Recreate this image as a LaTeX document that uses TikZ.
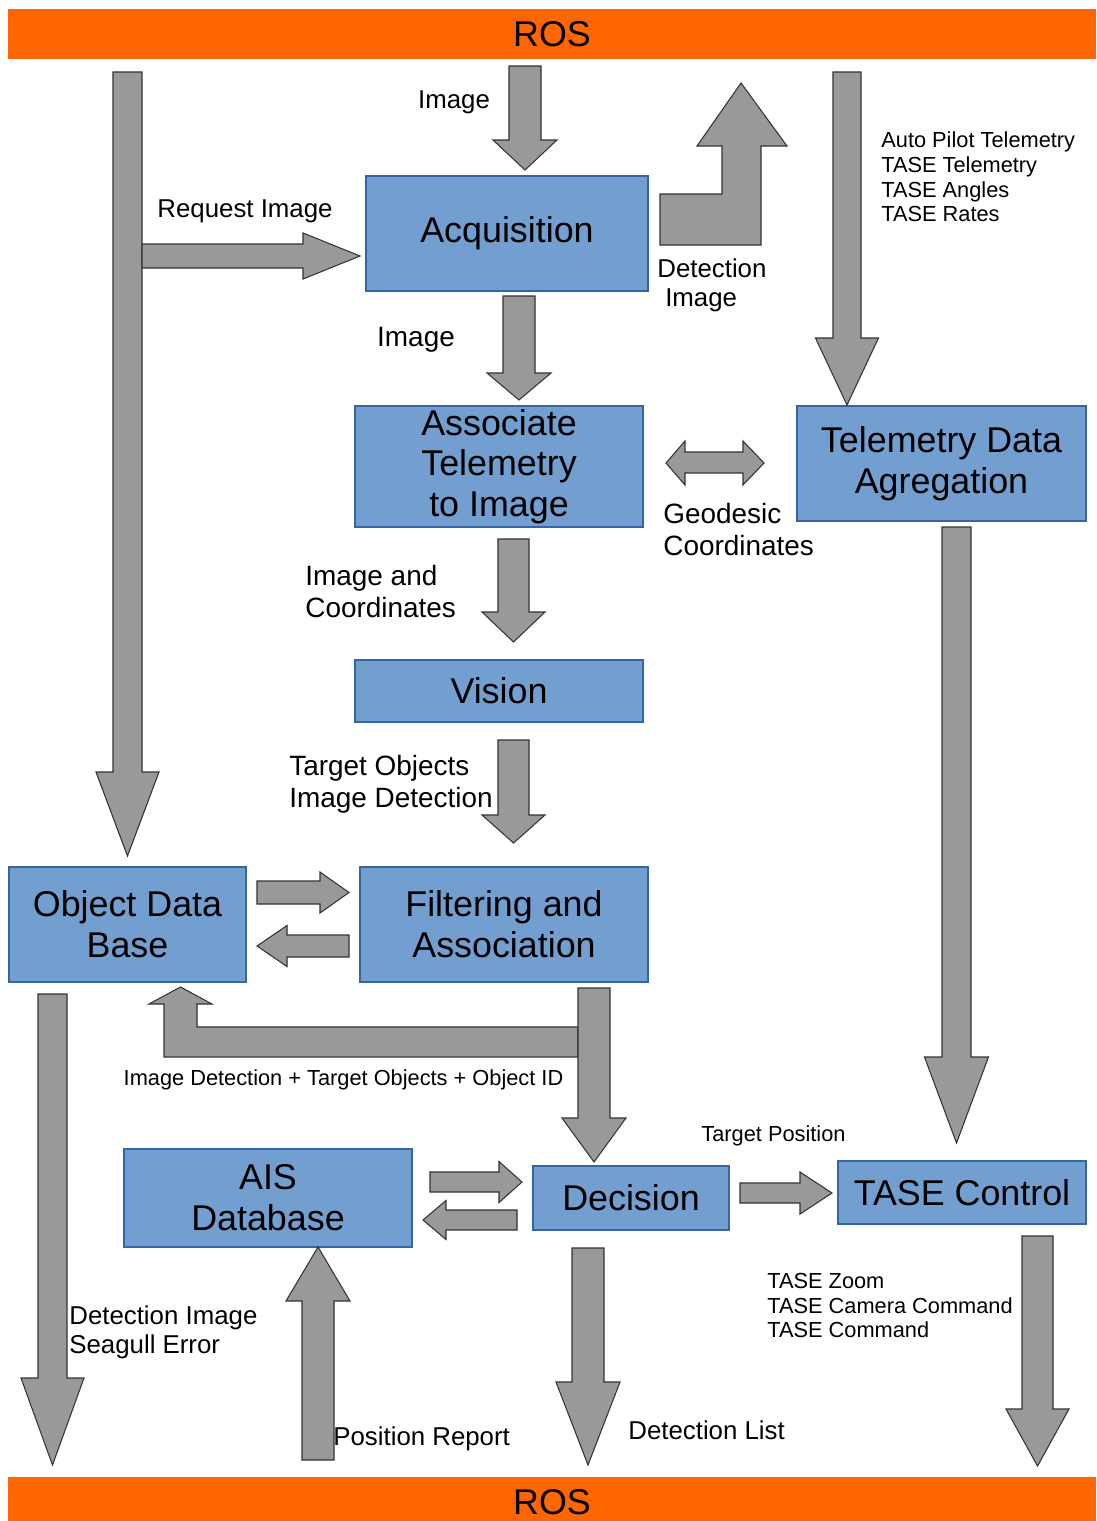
\documentclass[tikz,border=0pt]{standalone}
\usepackage{fontspec}
\setmainfont{Liberation Sans}
\usetikzlibrary{positioning}

\definecolor{rosorange}{HTML}{FF6600}
\definecolor{boxblue}{HTML}{729FCF}
\definecolor{boxedge}{HTML}{3465A4}
\definecolor{arrgray}{HTML}{999999}

% block arrows: centre, half shaft, half head, start, head base, tip
\newcommand{\vblk}[6]{\draw[blk] (#1-#2,#4) -- (#1-#2,#5) -- (#1-#3,#5) -- (#1,#6) -- (#1+#3,#5) -- (#1+#2,#5) -- (#1+#2,#4) -- cycle;}
\newcommand{\hblk}[6]{\draw[blk] (#4,#1-#2) -- (#5,#1-#2) -- (#5,#1-#3) -- (#6,#1) -- (#5,#1+#3) -- (#5,#1+#2) -- (#4,#1+#2) -- cycle;}

\begin{document}
\begin{tikzpicture}[x=0.02cm, y=-0.02cm,
  box/.style 2 args={draw=boxedge, fill=boxblue, line width=0.6pt, minimum width=#1*0.02cm, minimum height=#2*0.02cm, inner sep=0pt, align=center, font=\fontsize{20.4}{23.2}\selectfont},
  ros/.style={fill=rosorange, minimum width=1088*0.02cm, minimum height=50*0.02cm, inner sep=0pt, font=\fontsize{20.4}{23.2}\selectfont},
  blk/.style={draw=black!80, fill=arrgray, line width=0.6pt, line join=miter},
  lbl/.style={inner sep=0pt, align=left, yshift=-0.05cm, font=\fontsize{14.7}{16.4}\selectfont},
  lblb/.style={inner sep=0pt, align=left, yshift=-0.05cm, font=\fontsize{15.9}{18.4}\selectfont},
  lbls/.style={inner sep=0pt, align=left, yshift=-0.04cm, font=\fontsize{12.4}{14.1}\selectfont}]
  \useasboundingbox (0,0) rectangle (1096,1521);

  \node[ros] (rostop) at (552,34) {ROS};
  \node[ros] (rosbot) at (552,1502) {ROS};

  \node[box={282}{115}] (acq) at (507,233.5) {\raisebox{-2pt}{Acquisition}};
  \node[box={288}{121}] (assoc) at (499,466.5) {Associate\\Telemetry\\to Image};
  \node[box={289}{115}] (telem) at (941.5,463.5) {Telemetry Data\\Agregation};
  \node[box={288}{62}] (vision) at (499,691) {Vision};
  \node[box={237}{115}] (objdb) at (127.5,924.5) {Object Data\\Base};
  \node[box={288}{115}] (filter) at (504,924.5) {Filtering and\\Association};
  \node[box={288}{98}] (ais) at (268,1198) {AIS\\Database};
  \node[box={196}{64}] (decision) at (631,1198) {Decision};
  \node[box={248}{63}] (tase) at (962,1192.5) {TASE Control};

  % arrows
  \vblk{127.5}{14.5}{31.5}{72}{772}{856}
  \hblk{256}{12}{23}{142}{303}{360}
  \vblk{525}{16}{32}{66}{140}{170}
  \draw[blk] (660,245) -- (660,194) -- (722,194) -- (722,146) -- (697,146) -- (741,83) -- (787,146) -- (761,146) -- (761,245) -- cycle;
  \vblk{847}{14}{31.5}{72}{338}{405}
  \vblk{519}{16}{32}{296}{373}{400}
  \draw[blk] (666,463) -- (685,441) -- (685,452) -- (743,452) -- (743,441) -- (764,463) -- (743,485) -- (743,473) -- (685,473) -- (685,485) -- cycle;
  \vblk{513.5}{15.5}{31.5}{539}{612}{642}
  \vblk{513.5}{15.5}{31.5}{740}{815}{843}
  \vblk{956.5}{14.5}{32}{527}{1057}{1143}
  \hblk{892.5}{11.5}{20.5}{257}{320}{349}
  \hblk{946}{11}{20.5}{349}{287}{257}
  \draw[blk] (578,1057) -- (164,1057) -- (164,1004) -- (149,1004) -- (180.5,987) -- (212,1004) -- (197,1004) -- (197,1027) -- (578,1027) -- cycle;
  \vblk{594}{16}{32}{988}{1118}{1162}
  \hblk{1182}{10}{20.5}{430}{499}{522}
  \hblk{1220}{10}{19.5}{517}{446}{423}
  \hblk{1193}{10}{21}{740}{800}{832}
  \vblk{52.5}{14.5}{31.5}{994}{1378}{1465}
  \vblk{318}{16}{32}{1460}{1301}{1247}
  \vblk{588}{16}{32}{1248}{1382}{1465}
  \vblk{1037.5}{15.5}{31.5}{1236}{1409}{1466}

  % labels
  \node[lbl] (limgtop) at (454,100) {Image};
  \node[lbl] (lreq) at (245,209) {Request Image};
  \node[lbl, anchor=west] (ldetimg) at (657,283) {Detection\\\hspace*{4.5pt}Image};
  \node[lbls, anchor=west] (ltelin) at (881,175) {Auto Pilot Telemetry\\TASE Telemetry\\TASE Angles\\TASE Rates};
  \node[lblb] (limgmid) at (416,337) {Image};
  \node[lblb, anchor=west] (lgeo) at (663,527) {Geodesic\\Coordinates};
  \node[lblb, anchor=west] (limgcoord) at (305,589) {Image and\\Coordinates};
  \node[lblb, anchor=west] (ltarget) at (289,782) {Target Objects\\Image Detection};
  \node[lbls] (ldetid) at (343.5,1078) {Image Detection + Target Objects + Object ID};
  \node[lbls] (ltargpos) at (773.5,1134) {Target Position};
  \node[lbl, anchor=west] (lseagull) at (69,1330) {Detection Image\\Seagull Error};
  \node[lbl, anchor=west] (lposrep) at (333,1436) {Position Report};
  \node[lbl, anchor=west] (ldetlist) at (628,1428) {Detection List};
  \node[lbls, anchor=west] (ltasecmd) at (767,1303.5) {TASE Zoom\\TASE Camera Command\\TASE Command};
\end{tikzpicture}
\end{document}
